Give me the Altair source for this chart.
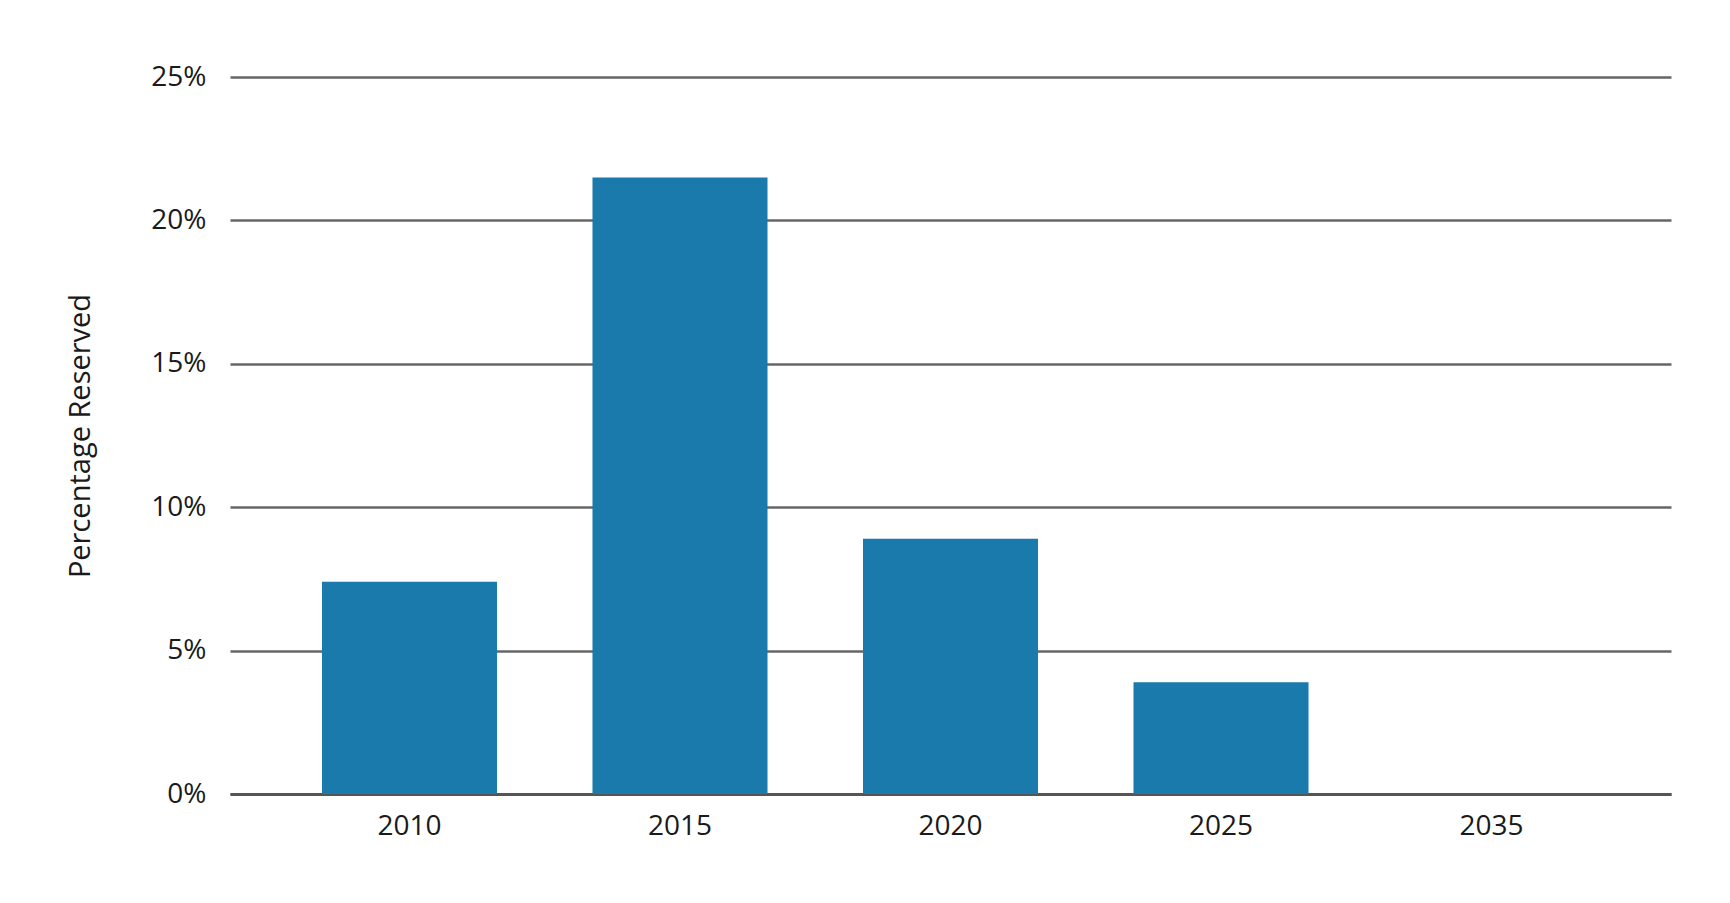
import altair as alt
import pandas as pd

years = ["2010", "2015", "2020", "2025", "2035"]
reserved = [7.4, 21.5, 8.9, 3.9, 0.0]

df = pd.DataFrame({"year": years, "pct": [v / 100 for v in reserved]})

FONT = "Open Sans"
TXT = "#1a1a1a"

chart = (
    alt.Chart(df)
    .mark_bar(color="#197aab")
    .encode(
        x=alt.X(
            "year:N",
            sort=years,
            title=None,
            scale=alt.Scale(paddingInner=0.353, paddingOuter=0.34),
            axis=alt.Axis(
                labelAngle=0,
                labelFontSize=28,
                labelFont=FONT,
                labelFontWeight=400,
                labelColor=TXT,
                labelPadding=18,
                ticks=False,
                domain=True,
                domainColor="#555555",
                domainWidth=3,
                grid=False,
            ),
        ),
        y=alt.Y(
            "pct:Q",
            title="Percentage Reserved",
            scale=alt.Scale(domain=[0, 0.25], nice=False),
            axis=alt.Axis(
                values=[0, 0.05, 0.10, 0.15, 0.20, 0.25],
                format=".0%",
                labelFontSize=28,
                labelFont=FONT,
                labelFontWeight=400,
                labelColor=TXT,
                labelPadding=24,
                ticks=False,
                domain=False,
                grid=True,
                gridColor="#666666",
                gridWidth=2.7,
                titleFont=FONT,
                titleFontSize=29,
                titleFontWeight=400,
                titleColor=TXT,
                titlePadding=55,
            ),
        ),
    )
    .properties(
        width=1441,
        height=717,
        background="white",
        autosize=alt.AutoSizeParams(type="none"),
        padding={"left": 222, "top": 69, "right": 40, "bottom": 90},
    )
    .configure_view(strokeWidth=0, stroke="transparent")
)

chart.save("out.html", embed_options={"renderer": "svg", "actions": False})
